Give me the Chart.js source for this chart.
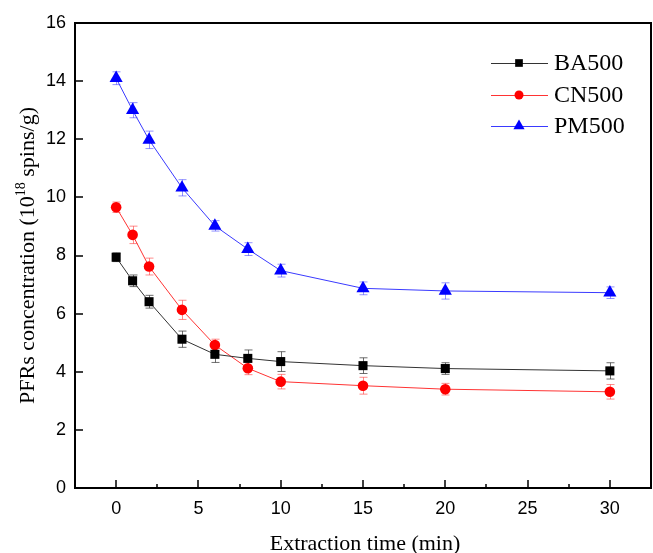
<!DOCTYPE html>
<html>
<head>
<meta charset="utf-8">
<script src="https://cdn.jsdelivr.net/npm/chart.js@4/dist/chart.umd.min.js"></script>
<style>
html,body{margin:0;padding:0;background:#fff;overflow:hidden;}
#wrap{width:653px;height:553px;}
canvas{display:block;}
</style>
</head>
<body>
<div id="wrap"><canvas id="c" width="653" height="553"></canvas></div>
<script>
// ---- data ----
const times = [0, 1, 2, 4, 6, 8, 10, 15, 20, 30];
const ba500 = [7.94, 7.13, 6.41, 5.12, 4.60, 4.46, 4.35, 4.21, 4.11, 4.03];
const ba500Err = [0.15, 0.20, 0.22, 0.28, 0.28, 0.29, 0.34, 0.27, 0.20, 0.28];
const cn500 = [9.66, 8.71, 7.62, 6.13, 4.92, 4.12, 3.66, 3.52, 3.40, 3.31];
const cn500Err = [0.18, 0.30, 0.29, 0.33, 0.20, 0.22, 0.25, 0.29, 0.20, 0.25];
const pm500 = [14.10, 13.00, 11.98, 10.33, 9.02, 8.22, 7.48, 6.87, 6.78, 6.72];
const pm500Err = [0.22, 0.26, 0.30, 0.28, 0.18, 0.22, 0.22, 0.22, 0.28, 0.20];
const seriesNames = ['BA500', 'CN500', 'PM500'];
const xTickValues = [0, 5, 10, 15, 20, 25, 30];
const xMinorTickValues = [2.5, 7.5, 12.5, 17.5, 22.5, 27.5];
const yTickValues = [0, 2, 4, 6, 8, 10, 12, 14, 16];
const xTitle = 'Extraction time (min)';
const yTitleParts = ['PFRs concentration (10', '18', ' spins/g)'];

const toPts = (arr) => arr.map((v, i) => ({x: times[i], y: v}));
const errs = [ba500Err, cn500Err, pm500Err];
const errColors = ['rgba(60,60,60,0.75)', 'rgba(255,60,60,0.6)', 'rgba(60,60,255,0.55)'];

const styles = [
  {line: '#333333', fill: '#000000', shape: 'rect', r: 6.4},
  {line: '#ff3333', fill: '#ff0000', shape: 'circle', r: 5.3},
  {line: '#3a3aff', fill: '#0000ff', shape: 'triangle', r: 7.6}
];

function drawMarker(ctx, shape, x, y, r, color) {
  ctx.save();
  ctx.fillStyle = color;
  ctx.beginPath();
  if (shape === 'rect') {
    const s = Math.SQRT1_2 * r;
    ctx.rect(x - s, y - s, 2 * s, 2 * s);
  } else if (shape === 'circle') {
    ctx.arc(x, y, r, 0, Math.PI * 2);
  } else {
    let rad = 0;
    ctx.moveTo(x + Math.sin(rad) * r, y - Math.cos(rad) * r);
    rad += 2 * Math.PI / 3;
    ctx.lineTo(x + Math.sin(rad) * r, y - Math.cos(rad) * r);
    rad += 2 * Math.PI / 3;
    ctx.lineTo(x + Math.sin(rad) * r, y - Math.cos(rad) * r);
    ctx.closePath();
  }
  ctx.fill();
  ctx.restore();
}

const decor = {
  id: 'decor',
  beforeDatasetsDraw(chart) {
    const ctx = chart.ctx;
    const xs = chart.scales.x, ys = chart.scales.y;
    chart.data.datasets.forEach((ds, di) => {
      ctx.save();
      ctx.strokeStyle = errColors[di];
      ctx.lineWidth = 1;
      ds.data.forEach((p, i) => {
        const e = errs[di][i];
        const px = Math.round(xs.getPixelForValue(p.x)) + 0.5;
        const yt = ys.getPixelForValue(p.y + e);
        const yb = ys.getPixelForValue(p.y - e);
        ctx.beginPath();
        ctx.moveTo(px, yt); ctx.lineTo(px, yb);
        ctx.moveTo(px - 4, yt); ctx.lineTo(px + 4, yt);
        ctx.moveTo(px - 4, yb); ctx.lineTo(px + 4, yb);
        ctx.stroke();
      });
      ctx.restore();
    });
  },
  afterDraw(chart) {
    const ctx = chart.ctx;
    const a = chart.chartArea;
    const xs = chart.scales.x, ys = chart.scales.y;
    ctx.save();
    // frame
    ctx.strokeStyle = '#000';
    ctx.lineWidth = 2;
    ctx.strokeRect(a.left, a.top, a.right - a.left, a.bottom - a.top);
    // inward ticks
    ctx.lineWidth = 1.5;
    ctx.beginPath();
    xTickValues.forEach(v => {
      const px = Math.round(xs.getPixelForValue(v));
      ctx.moveTo(px, a.bottom); ctx.lineTo(px, a.bottom - 8);
    });
    xMinorTickValues.forEach(v => {
      const px = Math.round(xs.getPixelForValue(v));
      ctx.moveTo(px, a.bottom); ctx.lineTo(px, a.bottom - 4);
    });
    yTickValues.forEach(v => {
      const py = Math.round(ys.getPixelForValue(v));
      ctx.moveTo(a.left, py); ctx.lineTo(a.left + 8, py);
    });
    ctx.stroke();

    // legend
    const lx0 = 491, lx1 = 548, mx = 519, tx = 554;
    const rows = [63, 95, 126];
    ctx.font = '24px "Liberation Serif", "Times New Roman", serif';
    ctx.textBaseline = 'middle';
    ctx.textAlign = 'left';
    seriesNames.forEach((name, i) => {
      const y = rows[i];
      ctx.strokeStyle = styles[i].line;
      ctx.lineWidth = 1;
      ctx.beginPath();
      ctx.moveTo(lx0, y + 0.5); ctx.lineTo(lx1, y + 0.5);
      ctx.stroke();
      drawMarker(ctx, styles[i].shape, mx, y, styles[i].r * 0.85, styles[i].fill);
      ctx.fillStyle = '#000';
      ctx.fillText(name, tx, y + 1);
    });

    // x title
    ctx.font = '22px "Liberation Serif", "Times New Roman", serif';
    ctx.textAlign = 'center';
    ctx.textBaseline = 'alphabetic';
    ctx.fillStyle = '#000';
    ctx.fillText(xTitle, 365, 550);

    // y title with superscript
    const big = '22px "Liberation Serif", "Times New Roman", serif';
    const small = '14px "Liberation Serif", "Times New Roman", serif';
    ctx.font = big;
    const w0 = ctx.measureText(yTitleParts[0]).width;
    const w2 = ctx.measureText(yTitleParts[2]).width;
    ctx.font = small;
    const w1 = ctx.measureText(yTitleParts[1]).width;
    const total = w0 + w1 + w2;
    ctx.translate(34, (a.top + a.bottom) / 2);
    ctx.rotate(-Math.PI / 2);
    ctx.textAlign = 'left';
    let cx = -total / 2;
    ctx.font = big;
    ctx.fillText(yTitleParts[0], cx, 0); cx += w0;
    ctx.font = small;
    ctx.fillText(yTitleParts[1], cx, -9); cx += w1;
    ctx.font = big;
    ctx.fillText(yTitleParts[2], cx, 0);
    ctx.restore();
  }
};

const datasets = [ba500, cn500, pm500].map((arr, i) => ({
  label: seriesNames[i],
  data: toPts(arr),
  borderColor: styles[i].line,
  borderWidth: 1,
  backgroundColor: styles[i].fill,
  pointStyle: styles[i].shape,
  pointRadius: styles[i].r,
  pointBackgroundColor: styles[i].fill,
  pointBorderColor: styles[i].fill,
  pointBorderWidth: 0,
  tension: 0,
  fill: false
}));

new Chart(document.getElementById('c'), {
  type: 'line',
  data: {datasets},
  options: {
    responsive: false,
    animation: false,
    layout: {autoPadding: false, padding: {top: 23, right: 2, left: 0, bottom: 0}},
    plugins: {legend: {display: false}, tooltip: {enabled: false}},
    scales: {
      x: {
        type: 'linear',
        min: -2.5, max: 32.5,
        afterBuildTicks: (s) => { s.ticks = xTickValues.map(v => ({value: v})); },
        afterFit: (s) => { s.height = 65; s.paddingRight = 0; s.paddingLeft = 0; },
        grid: {display: false, drawTicks: false},
        border: {display: false},
        ticks: {padding: 10, color: '#000', font: {family: '"Liberation Sans", Arial, sans-serif', size: 18}, maxRotation: 0}
      },
      y: {
        type: 'linear',
        min: 0, max: 16,
        afterBuildTicks: (s) => { s.ticks = yTickValues.map(v => ({value: v})); },
        afterFit: (s) => { s.width = 75; s.paddingTop = 0; s.paddingBottom = 0; },
        grid: {display: false, drawTicks: false},
        border: {display: false},
        ticks: {padding: 9, color: '#000', font: {family: '"Liberation Sans", Arial, sans-serif', size: 18}}
      }
    }
  },
  plugins: [decor]
});
</script>
</body>
</html>
